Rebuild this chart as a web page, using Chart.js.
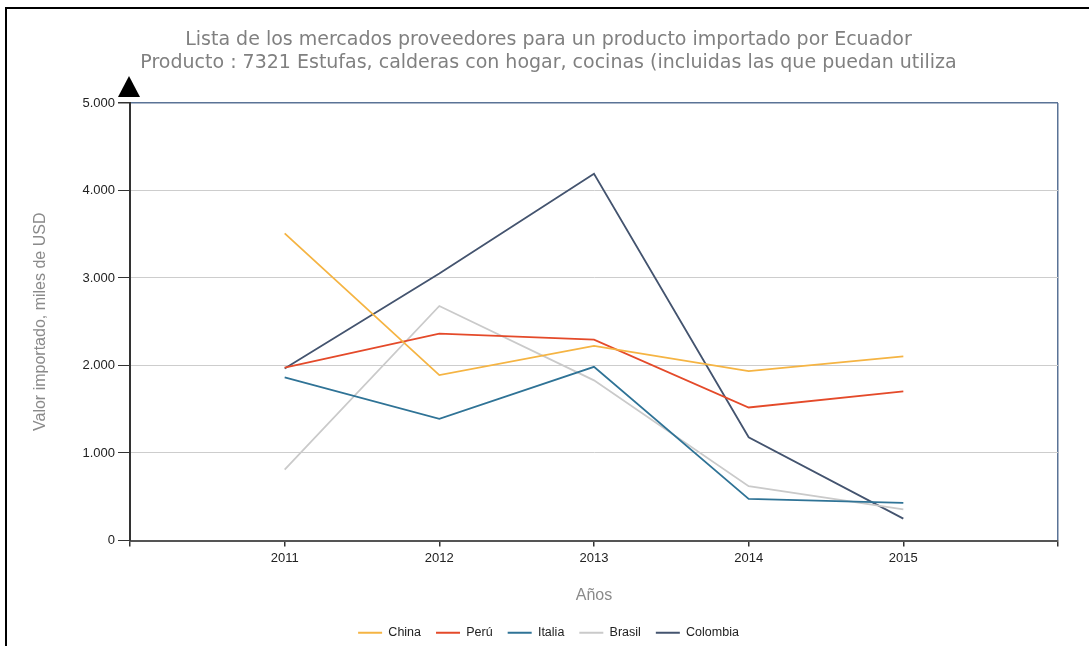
<!DOCTYPE html>
<html>
<head>
<meta charset="utf-8">
<script src="https://cdn.jsdelivr.net/npm/chart.js@4/dist/chart.umd.min.js"></script>
<style>
  html, body { margin: 0; padding: 0; background: #fff; overflow: hidden; }
  #marco { position: absolute; left: 5px; top: 7px; width: 1200px; height: 800px; border: 2px solid #000; }
  #grafico { position: absolute; left: 0; top: 0; }
</style>
</head>
<body>
<div id="marco"></div>
<canvas id="grafico" width="1089" height="646"></canvas>
<script>
// Datos (miles de USD)
const anios = [2011, 2012, 2013, 2014, 2015];
const china = [3510, 1890, 2225, 1935, 2105];
const peru = [1975, 2365, 2295, 1520, 1705];
const italia = [1865, 1390, 1985, 475, 430];
const brasil = [810, 2680, 1830, 620, 355];
const colombia = [1965, 3050, 4190, 1180, 250];
const ticksY = [0, 1000, 2000, 3000, 4000, 5000];

const fmtMiles = (v) => String(v).replace(/\B(?=(\d{3})+(?!\d))/g, '.');
const puntos = (vals) => anios.map((a, i) => ({ x: a, y: vals[i] }));

const serie = (label, vals, color) => ({
  label: label,
  data: puntos(vals),
  borderColor: color,
  backgroundColor: color,
  borderWidth: 1.8,
  pointRadius: 0,
  tension: 0,
});

// flecha negra en la punta del eje Y
const flecha = {
  id: 'flecha',
  afterDraw(chart) {
    const { ctx, chartArea } = chart;
    const x = chartArea.left - 1;
    ctx.save();
    ctx.fillStyle = '#000';
    ctx.beginPath();
    ctx.moveTo(x, chartArea.top - 27);
    ctx.lineTo(x - 11, chartArea.top - 6);
    ctx.lineTo(x + 11, chartArea.top - 6);
    ctx.closePath();
    ctx.fill();
    ctx.restore();
  },
};

const fuente = "'Liberation Sans', Arial, sans-serif";

new Chart(document.getElementById('grafico'), {
  type: 'line',
  data: {
    datasets: [
      serie('China', china, '#f5b443'),
      serie('Perú', peru, '#e44a2a'),
      serie('Italia', italia, '#2f7396'),
      serie('Brasil', brasil, '#cacaca'),
      serie('Colombia', colombia, '#44546f'),
    ],
  },
  options: {
    responsive: false,
    animation: false,
    layout: { padding: { top: 0, right: 31, left: 39, bottom: -3 } },
    plugins: {
      title: {
        display: true,
        text: [
          'Lista de los mercados proveedores para un producto importado por Ecuador',
          'Producto : 7321 Estufas, calderas con hogar, cocinas (incluidas las que puedan utiliza',
        ],
        color: '#808080',
        font: { family: "'DejaVu Sans', Verdana, sans-serif", size: 19, weight: 'normal', lineHeight: 1.21 },
        padding: { top: 29, bottom: 28 },
      },
      legend: {
        position: 'bottom',
        labels: {
          usePointStyle: true,
          pointStyle: 'line',
          pointStyleWidth: 24,
          padding: 15,
          color: '#222',
          font: { family: fuente, size: 12.5 },
        },
      },
      tooltip: { enabled: false },
    },
    scales: {
      x: {
        type: 'linear',
        min: 2010,
        max: 2016,
        afterBuildTicks: (s) => { s.ticks = [2010, 2011, 2012, 2013, 2014, 2015, 2016].map((v) => ({ value: v })); },
        afterFit: (s) => { s.height = 71; },
        border: { color: '#555', width: 2 },
        grid: {
          drawOnChartArea: true,
          color: (c) => (c.tick && c.tick.value === 2016 ? '#5a7396' : 'rgba(0,0,0,0)'),
          lineWidth: 1.5,
          tickColor: '#333',
          tickLength: 6,
        },
        ticks: {
          callback: (v) => (anios.includes(v) ? String(v) : ''),
          color: '#222',
          font: { family: fuente, size: 13 },
          padding: 4,
          maxRotation: 0,
          autoSkip: false,
        },
        title: {
          display: true,
          text: 'Años',
          color: '#8a8a8a',
          font: { family: fuente, size: 16 },
          padding: { top: 10, bottom: 6.5 },
        },
      },
      y: {
        min: 0,
        max: 5000,
        afterBuildTicks: (s) => { s.ticks = ticksY.map((v) => ({ value: v })); },
        afterFit: (s) => { s.width = 91; },
        border: { color: '#333', width: 2 },
        grid: {
          color: (c) => (c.tick && c.tick.value === 5000 ? '#5a7396' : (c.tick && c.tick.value === 0 ? 'rgba(0,0,0,0)' : '#cdcdcd')),
          lineWidth: (c) => (c.tick && c.tick.value === 5000 ? 1.5 : 1),
          tickColor: '#333',
          tickLength: 12,
        },
        ticks: {
          callback: (v) => fmtMiles(v),
          color: '#222',
          font: { family: fuente, size: 13 },
          padding: 3,
        },
        title: {
          display: true,
          text: 'Valor importado, miles de USD',
          color: '#8a8a8a',
          font: { family: fuente, size: 16 },
          padding: { top: -8 },
        },
      },
    },
  },
  plugins: [flecha],
});
</script>
</body>
</html>
